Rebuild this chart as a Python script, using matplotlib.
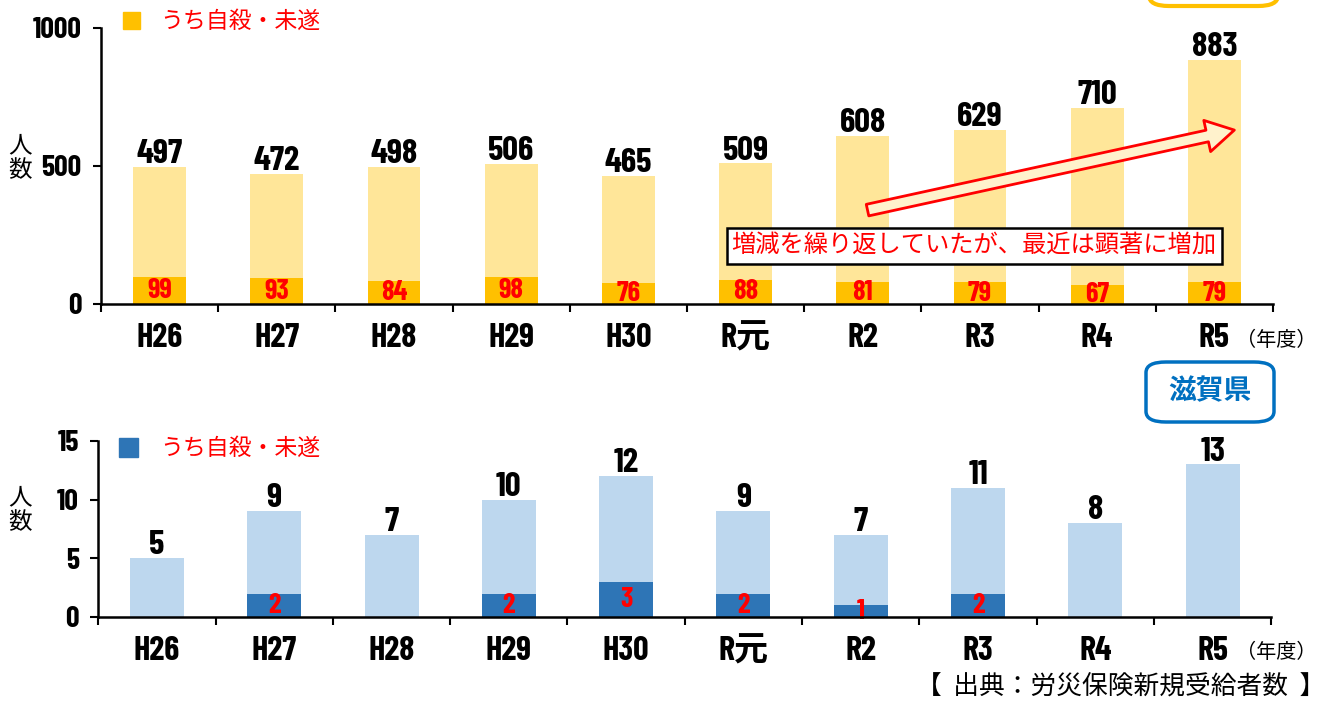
import matplotlib
matplotlib.use("Agg")
import matplotlib.pyplot as plt
from matplotlib.patches import Rectangle, FancyBboxPatch, FancyArrowPatch

# data
years = ["H26", "H27", "H28", "H29", "H30", "R元", "R2", "R3", "R4", "R5"]
national_total = [497, 472, 498, 506, 465, 509, 608, 629, 710, 883]
national_suicide = [99, 93, 84, 98, 76, 88, 81, 79, 67, 79]
shiga_total = [5, 9, 7, 10, 12, 9, 7, 11, 8, 13]
shiga_suicide = [0, 2, 0, 2, 3, 2, 1, 2, 0, 0]

NARROW = ["Barlow Condensed", "Noto Sans CJK JP"]
JP = ["Noto Sans CJK JP", "DejaVu Sans"]
RED = "#FF0000"

fig = plt.figure(figsize=(13.28, 7.02), dpi=100)
ax1 = fig.add_axes([0.0761, 0.5670, 0.8825, 0.3932])
ax2 = fig.add_axes([0.0740, 0.1211, 0.8833, 0.2507])


def draw_panel(ax, totals, inner, light, dark, ymax, yticks, bar_w):
    x = range(len(years))
    ax.bar(x, totals, width=bar_w, color=light, zorder=2)
    ax.bar(x, inner, width=bar_w, color=dark, zorder=3)
    for i, (t, s) in enumerate(zip(totals, inner)):
        ax.annotate(str(t), (i, t), xytext=(0, -1.5), textcoords="offset points",
                    ha="center", va="bottom", fontsize=25, fontweight="bold",
                    family=NARROW, color="black", zorder=5)
        if s > 0:
            ax.text(i, s / 2, str(s), ha="center", va="center", fontsize=20.5,
                    fontweight="bold", family=NARROW, color=RED, zorder=5)
    ax.set_xlim(-0.5, len(years) - 0.5)
    ax.set_ylim(0, ymax)
    ax.set_yticks(yticks)
    ax.set_xticks(list(x))
    ax.set_xticklabels(years)
    ax.set_xticks([i - 0.5 for i in range(len(years) + 1)], minor=True)
    ax.tick_params(axis="x", which="major", length=0, pad=14)
    ax.tick_params(axis="x", which="minor", length=6, width=1.5, direction="out")
    ax.tick_params(axis="y", length=6, width=1.5, direction="out", pad=8)
    for lab in ax.get_xticklabels():
        lab.set_fontsize(24.5)
        lab.set_fontweight("bold")
        lab.set_family(NARROW)
    for lab in ax.get_yticklabels():
        lab.set_fontsize(21.5)
        lab.set_fontweight("bold")
        lab.set_family(NARROW)
    for side in ["top", "right"]:
        ax.spines[side].set_visible(False)
    for side in ["left", "bottom"]:
        ax.spines[side].set_linewidth(1.8)
    ax.spines["bottom"].set_zorder(6)


draw_panel(ax1, national_total, national_suicide, "#FFE699", "#FFC000", 1000,
           [0, 500, 1000], 0.45)
draw_panel(ax2, shiga_total, shiga_suicide, "#BDD7EE", "#2E75B6", 15,
           [0, 5, 10, 15], 0.46)

# trend arrow and comment on the national panel
arrow = FancyArrowPatch((6.04, 340), (9.17, 630),
                        arrowstyle="simple,head_width=2.3,head_length=2.0,tail_width=0.85",
                        mutation_scale=10, shrinkA=0, shrinkB=0,
                        facecolor="#FFF2CC", edgecolor=RED, linewidth=2, zorder=7)
ax1.add_patch(arrow)
ax1.text(6.95, 210, "増減を繰り返していたが、最近は顕著に増加", ha="center", va="center",
         fontsize=17.5, color=RED, family=JP, zorder=8,
         bbox=dict(boxstyle="square,pad=0.2", facecolor="white",
                   edgecolor="black", linewidth=1.8))

# legends
W, H = 1328, 702
fig.patches.append(Rectangle((123 / W, 1 - 29 / H), 17 / W, 17 / H,
                             transform=fig.transFigure, color="#FFC000"))
fig.text(160 / W, 1 - 21 / H, "うち自殺・未遂", fontsize=16.5, color=RED,
         family=JP, va="center")
fig.patches.append(Rectangle((119 / W, 1 - 457 / H), 19 / W, 19 / H,
                             transform=fig.transFigure, color="#2E75B6"))
fig.text(160 / W, 1 - 448 / H, "うち自殺・未遂", fontsize=16.5, color=RED,
         family=JP, va="center")

# y labels
fig.text(20 / W, 1 - 158 / H, "人\n数", fontsize=17, family=JP, ha="center",
         va="center", linespacing=1.1)
fig.text(20 / W, 1 - 510 / H, "人\n数", fontsize=17, family=JP, ha="center",
         va="center", linespacing=1.1)

# year units
fig.text(1236 / W, 1 - 340 / H, "（年度）", fontsize=14.5, family=JP, va="center")
fig.text(1236 / W, 1 - 652 / H, "（年度）", fontsize=14.5, family=JP, va="center")

# source
fig.text(1325 / W, 1 - 688 / H, "【  出典：労災保険新規受給者数  】", fontsize=18.5,
         family=JP, ha="right", va="center")

# region boxes
fig.patches.append(FancyBboxPatch((1149 / W, 1 - 6 / H), 129 / W, 60 / H,
                                  boxstyle="round,pad=0,rounding_size=0.015",
                                  transform=fig.transFigure, facecolor="white",
                                  edgecolor="#FFC000", linewidth=3, clip_on=False))
fig.patches.append(FancyBboxPatch((1146 / W, 1 - 422 / H), 128 / W, 60 / H,
                                  boxstyle="round,pad=0,rounding_size=0.015",
                                  transform=fig.transFigure, facecolor="white",
                                  edgecolor="#0070C0", linewidth=2.5))
fig.text(1210 / W, 1 - 391 / H, "滋賀県", fontsize=20, fontweight="bold",
         color="#0070C0", family=JP, ha="center", va="center")

fig.savefig("out.png", dpi=100)
